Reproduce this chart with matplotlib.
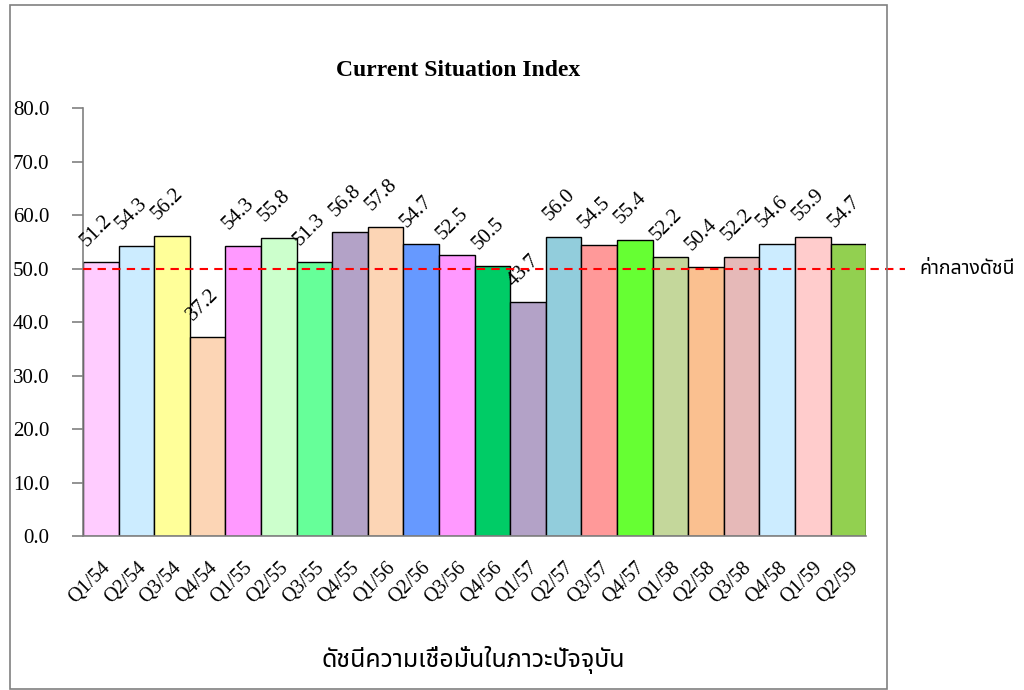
import matplotlib
matplotlib.use("Agg")
import matplotlib.pyplot as plt
from matplotlib.patches import Rectangle

quarters = ["Q1/54", "Q2/54", "Q3/54", "Q4/54", "Q1/55", "Q2/55", "Q3/55", "Q4/55",
            "Q1/56", "Q2/56", "Q3/56", "Q4/56", "Q1/57", "Q2/57", "Q3/57", "Q4/57",
            "Q1/58", "Q2/58", "Q3/58", "Q4/58", "Q1/59", "Q2/59"]
values = [51.2, 54.3, 56.2, 37.2, 54.3, 55.8, 51.3, 56.8, 57.8, 54.7, 52.5, 50.5,
          43.7, 56.0, 54.5, 55.4, 52.2, 50.4, 52.2, 54.6, 55.9, 54.7]
colors = ["#FFCCFF", "#CCECFF", "#FFFF99", "#FCD5B5", "#FF99FF", "#CCFFCC", "#66FF99",
          "#B3A2C7", "#FCD5B5", "#6699FF", "#FF99FF", "#00CC66", "#B3A2C7", "#92CDDC",
          "#FF9999", "#66FF33", "#C4D79B", "#FAC090", "#E6B9B8", "#CCECFF", "#FFCCCC",
          "#92D050"]
midpoint = 50.0

serif = ["Liberation Serif", "DejaVu Serif"]
thai = ["Noto Sans Thai", "Noto Serif Thai", "DejaVu Sans"]

fig = plt.figure(figsize=(10.24, 6.9), dpi=100)
fig.patches.append(Rectangle((0.0098, 0.0015), 0.856, 0.991, transform=fig.transFigure,
                             fill=False, edgecolor="#808080", linewidth=1.2))

ax = fig.add_axes([0.081, 0.223, 0.765, 0.62])
x = list(range(len(values)))
ax.bar(x, values, width=1.0, color=colors, edgecolor="black", linewidth=1.0)

ax.set_xlim(-0.5, len(values) - 0.5)
ax.set_ylim(0, 80)
ax.set_yticks([0, 10, 20, 30, 40, 50, 60, 70, 80])
ax.set_yticklabels([f"{v:.1f}" for v in ax.get_yticks()], fontsize=15, family=serif)
ax.set_xticks(x)
ax.set_xticklabels(quarters, rotation=45, ha="right", va="top", fontsize=14.5,
                   family=serif, rotation_mode="anchor")
ax.tick_params(axis="x", length=0, pad=16)
ax.tick_params(axis="y", length=8, color="#808080", width=1.2, pad=16)
for s in ["top", "right"]:
    ax.spines[s].set_visible(False)
for s in ["left", "bottom"]:
    ax.spines[s].set_color("#808080")
    ax.spines[s].set_linewidth(1.2)

# midpoint line, extends past the plot area
ax.plot([-0.5, 22.6], [midpoint, midpoint], color="#FF0000", linestyle=(0, (4, 3)),
        linewidth=1.5, clip_on=False, zorder=5)
ax.text(23.0, midpoint, "ค่ากลางดัชนี", fontsize=14, family=thai, va="center", ha="left")

for xi, v in zip(x, values):
    ax.text(xi - 0.3, v + 2.3, f"{v:.1f}", rotation=45, ha="left", va="bottom",
            fontsize=15, family=serif, rotation_mode="anchor")

fig.text(0.447, 0.898, "Current Situation Index", ha="center", va="center",
         fontsize=17, fontweight="bold", family=serif)
fig.text(0.462, 0.043, "ดัชนีความเชื่อมั่นในภาวะปัจจุบัน", ha="center", va="center",
         fontsize=18, fontweight="bold", family=thai)

fig.savefig("out.png", dpi=100)
